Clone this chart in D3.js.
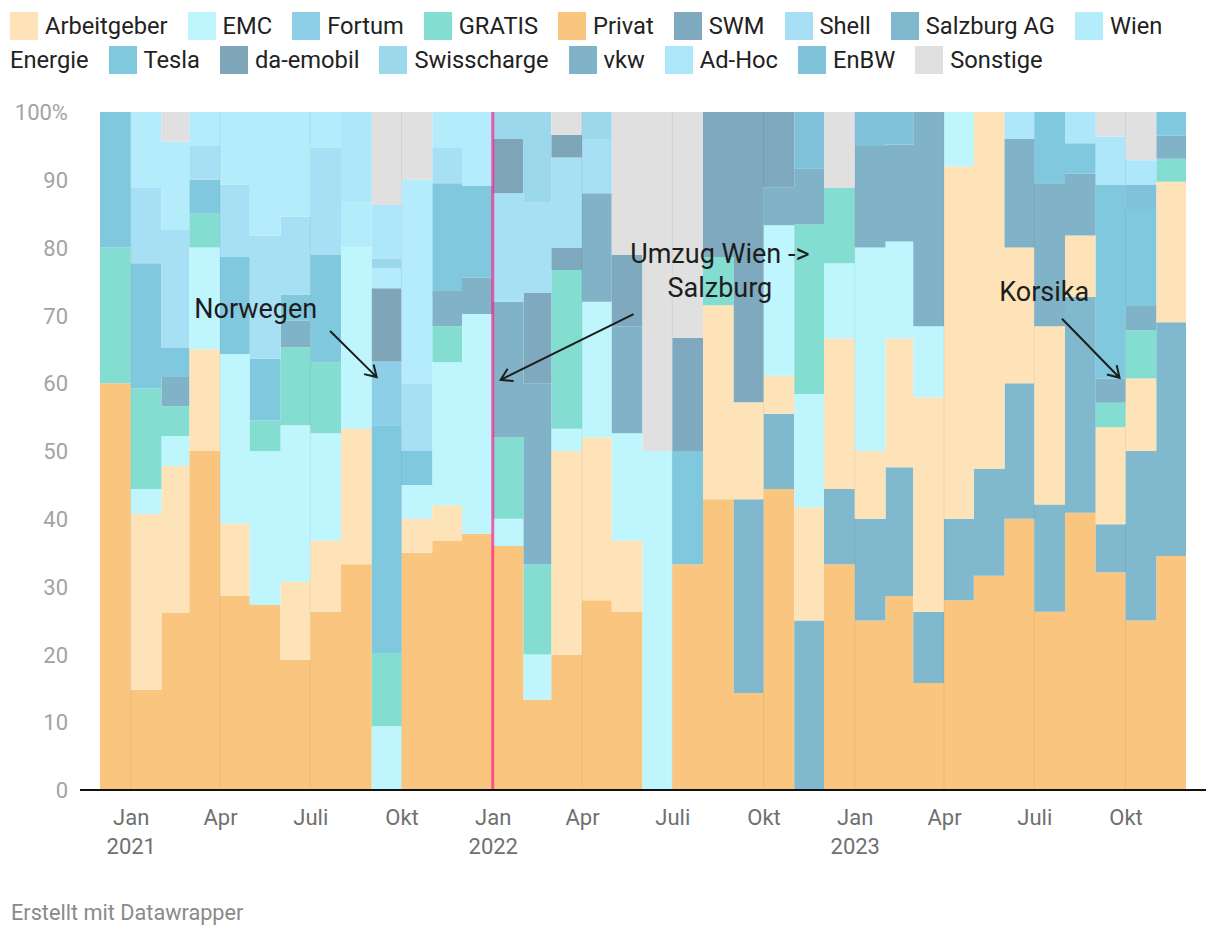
<!DOCTYPE html>
<html><head><meta charset="utf-8">
<script src="https://cdn.jsdelivr.net/npm/d3@7"></script>
<style>
body{margin:0;background:#fff;font-family:Roboto,"Noto Sans",sans-serif;}
#legend{position:absolute;left:10px;top:9px;width:1205px;font-size:23.7px;line-height:34px;color:#222;}
#legend .lb{margin-right:20px;}
#legend .sw{display:inline-block;width:28px;height:28px;margin-right:7px;vertical-align:-6px;}
svg{position:absolute;left:0;top:0;}
</style></head><body>
<div id="legend"></div>
<svg width="1220" height="936"></svg>
<script>
// Months (Dec 2020 .. Nov 2023)
const months = ["2020-12","2021-01","2021-02","2021-03","2021-04","2021-05","2021-06","2021-07","2021-08","2021-09","2021-10","2021-11","2021-12",
"2022-01","2022-02","2022-03","2022-04","2022-05","2022-06","2022-07","2022-08","2022-09","2022-10","2022-11","2022-12",
"2023-01","2023-02","2023-03","2023-04","2023-05","2023-06","2023-07","2023-08","2023-09","2023-10","2023-11"];

// Series values (% share per month)
const Privat      = [60,14.8,26.1,50,28.6,27.3,19.2,26.3,33.3,0,35,36.8,37.8,36,13.3,20,28,26.3,0,33.3,42.9,14.3,44.4,0,33.3,25,28.6,15.8,28,31.6,40,26.3,40.9,32.1,25,34.5];
const SalzburgAG  = [0,0,0,0,0,0,0,0,0,0,0,0,0,0,0,0,0,0,0,0,0,28.6,11.1,25,11.1,15,19.0,10.5,12,15.8,20,15.8,31.8,7.1,25,34.5];
const Arbeitgeber = [0,25.9,21.7,15,10.7,0,11.5,10.5,20.0,0,5,5.2,0,0,0,30,24,10.5,0,0,28.6,14.3,5.6,16.7,22.2,10,19.0,31.6,52,52.6,20,26.3,9.1,14.3,10.7,20.7];
const EMC         = [0,3.7,4.4,15,25.0,22.7,23.1,15.8,26.7,9.4,5,21.1,32.4,4,6.7,3.3,20,15.8,50,0,0,0,22.2,16.7,11.1,30,14.3,10.5,8,0,0,0,0,0,0,0];
const GRATIS      = [20,14.8,4.4,5,0,4.5,11.5,10.5,0,10.8,0,5.3,0,12,13.3,23.4,0,0,0,0,7.1,0,0,25,11.1,0,0,0,0,0,0,0,0,3.6,7.1,3.4];
const vkw         = [0,0,4.3,0,0,0,3.9,0,0,0,0,5.3,5.4,20,26.7,0,16,15.8,0,0,0,0,5.6,8.3,0,15,14.3,31.6,0,0,16,21.1,9.1,3.6,3.6,3.4];
const Tesla       = [20,18.5,4.3,5,14.3,9.1,3.9,15.8,0,33.6,5,15.8,13.5,0,0,0,0,0,0,16.7,0,0,0,0,0,0,0,0,0,0,0,10.5,4.5,28.6,14.3,3.5];
const Fortum      = [0,0,0,0,0,0,0,0,0,9.4,0,0,0,0,0,0,0,0,0,0,0,0,0,0,0,0,0,0,0,0,0,0,0,0,0,0];
const SWM         = [0,0,0,0,0,0,0,0,0,0,0,0,0,0,13.3,3.3,0,10.5,0,16.7,21.4,42.8,11.1,0,0,0,0,0,0,0,0,0,0,0,0,0];
const Shell       = [0,11.1,17.4,5,10.7,18.2,11.5,15.8,0,0,10,5.2,0,16,13.3,13.3,8,0,0,0,0,0,0,0,0,0,0,0,0,0,0,0,0,0,0,0];
const daEmobil    = [0,0,0,0,0,0,0,0,0,10.8,0,0,0,8,0,3.3,0,0,0,0,0,0,0,0,0,0,0,0,0,0,0,0,0,0,0,0];
const WienEnergie = [0,11.2,13.0,5,10.7,18.2,15.4,5.3,6.7,2.9,30,5.3,10.9,0,0,0,0,0,0,0,0,0,0,0,0,0,0,0,0,0,0,0,0,0,0,0];
const Swisscharge = [0,0,0,0,0,0,0,0,0,1.5,0,0,0,4,13.4,0,4,0,0,0,0,0,0,0,0,0,0,0,0,0,0,0,0,0,0,0];
const EnBW        = [0,0,0,0,0,0,0,0,0,0,0,0,0,0,0,0,0,0,0,0,0,0,0,8.3,0,5,4.8,0,0,0,0,0,0,0,3.6,0];
const AdHoc       = [0,0,0,0,0,0,0,0,13.3,7.9,0,0,0,0,0,0,0,0,0,0,0,0,0,0,0,0,0,0,0,0,4,0,4.6,7.1,3.6,0];
const Sonstige    = [0,0,4.4,0,0,0,0,0,0,13.7,10,0,0,0,0,3.4,0,21.1,50,33.3,0,0,0,0,11.2,0,0,0,0,0,0,0,0,3.6,7.1,0];

const seriesValues = {"Privat":Privat,"Salzburg AG":SalzburgAG,"Arbeitgeber":Arbeitgeber,"EMC":EMC,"GRATIS":GRATIS,"vkw":vkw,
 "Tesla":Tesla,"Fortum":Fortum,"SWM":SWM,"Shell":Shell,"da-emobil":daEmobil,"Wien Energie":WienEnergie,"Swisscharge":Swisscharge,
 "EnBW":EnBW,"Ad-Hoc":AdHoc,"Sonstige":Sonstige};

// stacking order bottom -> top
const stackOrder = ["Privat","Salzburg AG","Arbeitgeber","EMC","GRATIS","vkw","Tesla","Fortum","SWM","Shell","da-emobil","Wien Energie","Swisscharge","EnBW","Ad-Hoc","Sonstige"];
// legend order
const legendOrder = ["Arbeitgeber","EMC","Fortum","GRATIS","Privat","SWM","Shell","Salzburg AG","Wien Energie","Tesla","da-emobil","Swisscharge","vkw","Ad-Hoc","EnBW","Sonstige"];
const colors = {"Arbeitgeber":"#fee3b8","EMC":"#bff5fd","Fortum":"#8dcfe7","GRATIS":"#83ddd0","Privat":"#fac57f","SWM":"#7fa9be",
 "Shell":"#a7dff4","Salzburg AG":"#80b9cd","Wien Energie":"#b4ecfc","Tesla":"#7fc8de","da-emobil":"#7fa5b9","Swisscharge":"#9cd8ec",
 "vkw":"#80b3c8","Ad-Hoc":"#aee6fa","EnBW":"#80c2da","Sonstige":"#e0e0e0"};

const yTicks = [0,10,20,30,40,50,60,70,80,90,100];
const xTickMonths = ["2021-01","2021-04","2021-07","2021-10","2022-01","2022-04","2022-07","2022-10","2023-01","2023-04","2023-07","2023-10"];
const monthLabel = {0:"Jan",3:"Apr",6:"Juli",9:"Okt"};
const markerMonth = "2022-01";

const annotations = [
 {lines:["Norwegen"], tx:"2021-03-06", ty:69.6, anchor:"start", from:["2021-07-21",67.7], to:["2021-09-06",60.9]},
 {lines:["Umzug Wien ->","Salzburg"], tx:"2022-08-18", ty:77.7, anchor:"middle", from:["2022-05-23",70.2], to:["2022-01-09",60.5]},
 {lines:["Korsika"], tx:"2023-07-11", ty:72.1, anchor:"middle", from:["2023-07-29",69.5], to:["2023-09-25",60.8]}
];

const parseM = d3.timeParse("%Y-%m");
const parseD = d3.timeParse("%Y-%m-%d");
const dates = months.map(parseM);
const endDate = d3.timeMonth.offset(dates[dates.length-1],1);

const L=100, R=1186, T=112, B=790;
const x = d3.scaleTime().domain([dates[0], endDate]).range([L,R]);
const y = d3.scaleLinear().domain([0,100]).range([B,T]);

// legend (inline flow, labels may wrap like the original)
const leg = d3.select("#legend");
legendOrder.forEach(k=>{
  leg.append("span").attr("class","sw").style("background",colors[k]);
  leg.append("span").attr("class","lb").text(k);
  leg.append("wbr");
});

const svg = d3.select("svg");
const rows = dates.map((d,i)=>{const r={date:d}; stackOrder.forEach(k=>r[k]=seriesValues[k][i]); return r;});
const stacked = d3.stack().keys(stackOrder)(rows);

const area = d3.area().curve(d3.curveStepAfter)
  .x(p=>x(p.date)).y0(p=>y(p.v0)).y1(p=>y(p.v1));

const gA = svg.append("g");
stacked.forEach(s=>{
  const pts = s.map((d,i)=>({date:dates[i], v0:d[0], v1:d[1]}));
  const last = pts[pts.length-1];
  pts.push({date:endDate, v0:last.v0, v1:last.v1});
  gA.append("path").attr("d",area(pts)).attr("fill",colors[s.key]);
});

// faint vertical grid at ticks
const xTicks = xTickMonths.map(parseM);
svg.append("g").selectAll("line").data(xTicks).join("line")
  .attr("x1",d=>x(d)).attr("x2",d=>x(d)).attr("y1",T).attr("y2",B)
  .attr("stroke","rgba(0,0,0,0.06)").attr("stroke-width",1);

// marker line
const mx = x(parseM(markerMonth));
svg.append("line").attr("x1",mx).attr("x2",mx).attr("y1",T).attr("y2",B)
  .attr("stroke","#ff1a8c").attr("stroke-opacity",0.66).attr("stroke-width",3);

// baseline
svg.append("line").attr("x1",80).attr("x2",1206).attr("y1",B).attr("y2",B)
  .attr("stroke","#111").attr("stroke-width",2);

// y axis
const gy = svg.append("g").attr("transform","translate(68,0)")
  .call(d3.axisLeft(y).tickValues(yTicks).tickSize(0).tickPadding(0).tickFormat(d=>d===100?"100%":d));
gy.select(".domain").remove();
gy.selectAll("text").attr("font-family","Roboto").attr("font-size",22).attr("fill","#a3a3a3").attr("dy","0.35em");

// x axis
const gx = svg.append("g").attr("transform",`translate(0,${B})`)
  .call(d3.axisBottom(x).tickValues(xTicks).tickSize(0).tickPadding(0).tickFormat(d=>monthLabel[d.getMonth()]));
gx.select(".domain").remove();
gx.selectAll("text").attr("font-family","Roboto").attr("font-size",22).attr("fill","#707070").attr("y",35).attr("dy",0);
gx.selectAll(".tick").filter(d=>d.getMonth()===0).append("text")
  .attr("y",64).attr("text-anchor","middle").attr("font-family","Roboto").attr("font-size",22).attr("fill","#707070")
  .text(d=>d.getFullYear());

// annotations
const gN = svg.append("g").attr("font-family","Roboto").attr("font-size",27).attr("fill","#1d1d1d");
annotations.forEach(a=>{
  const t = gN.append("text").attr("text-anchor",a.anchor);
  a.lines.forEach((ln,i)=>t.append("tspan").attr("x",x(parseD(a.tx))).attr("y",y(a.ty)+i*34).text(ln));
  const x1=x(parseD(a.from[0])), y1=y(a.from[1]), x2=x(parseD(a.to[0])), y2=y(a.to[1]);
  const ang=Math.atan2(y2-y1,x2-x1), hl=13, sp=0.55;
  const p = `M${x1},${y1}L${x2},${y2}M${x2-hl*Math.cos(ang-sp)},${y2-hl*Math.sin(ang-sp)}L${x2},${y2}L${x2-hl*Math.cos(ang+sp)},${y2-hl*Math.sin(ang+sp)}`;
  svg.append("path").attr("d",p).attr("fill","none").attr("stroke","#1d1d1d").attr("stroke-width",2);
});

// footer
svg.append("text").attr("x",11).attr("y",920).attr("font-family","Roboto").attr("font-size",21.7).attr("fill","#8a8a8a")
  .text("Erstellt mit Datawrapper");
</script>
</body></html>
